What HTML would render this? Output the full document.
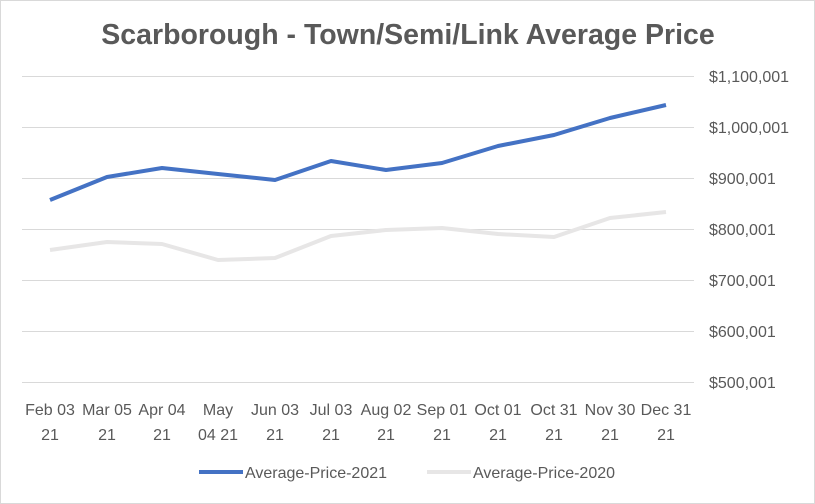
<!DOCTYPE html>
<html><head><meta charset="utf-8"><style>
body{margin:0;background:#fff;}
svg{display:block;font-family:"Liberation Sans",Arial,sans-serif;}
</style></head><body>
<svg width="815" height="504" viewBox="0 0 815 504">
<rect x="0.5" y="0.5" width="814" height="503" fill="#fff" stroke="#d9d9d9"/>
<text x="408" y="44" text-anchor="middle" font-size="28.5" font-weight="bold" fill="#595959">Scarborough - Town/Semi/Link Average Price</text>
<g stroke="#d9d9d9" stroke-width="1">
<line x1="22" x2="694" y1="76.5" y2="76.5"/>
<line x1="22" x2="694" y1="127.5" y2="127.5"/>
<line x1="22" x2="694" y1="178.5" y2="178.5"/>
<line x1="22" x2="694" y1="229.5" y2="229.5"/>
<line x1="22" x2="694" y1="280.5" y2="280.5"/>
<line x1="22" x2="694" y1="331.5" y2="331.5"/>
<line x1="22" x2="694" y1="382.5" y2="382.5"/>
</g>
<g font-size="16" fill="#595959" text-anchor="start">
<text x="709" y="82">$1,100,001</text>
<text x="709" y="133">$1,000,001</text>
<text x="709" y="184">$900,001</text>
<text x="709" y="235">$800,001</text>
<text x="709" y="286">$700,001</text>
<text x="709" y="337">$600,001</text>
<text x="709" y="388">$500,001</text>
</g>
<polyline fill="none" stroke="#e7e6e6" stroke-width="4" stroke-linejoin="round" points="50,250 107,242 162,244 218,260 275,258 331,236 386,230 442,228 498,234 554,237 610,218 666,212"/>
<polyline fill="none" stroke="#4472c4" stroke-width="4" stroke-linejoin="round" points="50,200 107,177 162,168 218,174 275,180 331,161 386,170 442,163 498,146 554,135 610,118 666,105"/>
<g font-size="16" fill="#595959" text-anchor="middle">
<text x="50" y="415">Feb 03</text><text x="50" y="440">21</text>
<text x="107" y="415">Mar 05</text><text x="107" y="440">21</text>
<text x="162" y="415">Apr 04</text><text x="162" y="440">21</text>
<text x="218" y="415">May</text><text x="218" y="440">04 21</text>
<text x="275" y="415">Jun 03</text><text x="275" y="440">21</text>
<text x="331" y="415">Jul 03</text><text x="331" y="440">21</text>
<text x="386" y="415">Aug 02</text><text x="386" y="440">21</text>
<text x="442" y="415">Sep 01</text><text x="442" y="440">21</text>
<text x="498" y="415">Oct 01</text><text x="498" y="440">21</text>
<text x="554" y="415">Oct 31</text><text x="554" y="440">21</text>
<text x="610" y="415">Nov 30</text><text x="610" y="440">21</text>
<text x="666" y="415">Dec 31</text><text x="666" y="440">21</text>
</g>
<line x1="199" x2="243" y1="472" y2="472" stroke="#4472c4" stroke-width="4"/>
<text x="245" y="478" font-size="16" fill="#595959">Average-Price-2021</text>
<line x1="427" x2="471" y1="472" y2="472" stroke="#e7e6e6" stroke-width="4"/>
<text x="473" y="478" font-size="16" fill="#595959">Average-Price-2020</text>
</svg>
</body></html>
